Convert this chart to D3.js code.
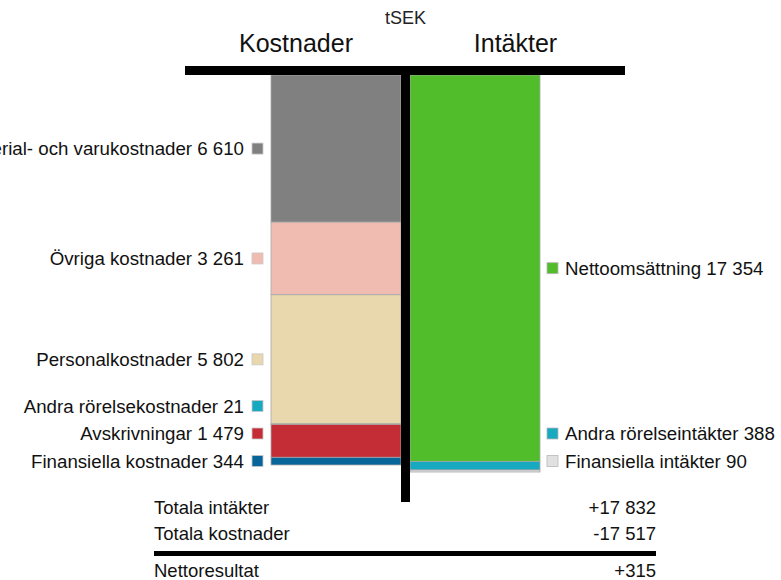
<!DOCTYPE html>
<html>
<head>
<meta charset="utf-8">
<script src="https://cdn.jsdelivr.net/npm/d3@7"></script>
<style>
  body { margin: 0; background: #fff; }
  svg { font-family: Arial, "Liberation Sans", sans-serif; }
</style>
</head>
<body>
<div id="vis"></div>
<script>
// Data (tSEK)
const COST_LABELS = ["Material- och varukostnader", "Övriga kostnader", "Personalkostnader",
    "Andra rörelsekostnader", "Avskrivningar", "Finansiella kostnader"];
const COST_VALUES = [6610, 3261, 5802, 21, 1479, 344];
const COST_COLORS = ["#808080", "#f0bcb2", "#e9d8ae", "#16a9c0", "#c52d36", "#07659a"];

const INCOME_LABELS = ["Nettoomsättning", "Andra rörelseintäkter", "Finansiella intäkter"];
const INCOME_VALUES = [17354, 388, 90];
const INCOME_COLORS = ["#52bd2a", "#16a9c0", "#e1e1e1"];

const SIDES = ["Kostnader", "Intäkter"];
const SUMMARY_LABELS = ["Totala intäkter", "Totala kostnader", "Nettoresultat"];

// Constants
const FRAME_WIDTH = 781;
const FRAME_HEIGHT = 580;
const TOP = 75;
const LABEL_GAP = 27.5;
const LABEL_MAX_Y = 461;
const LABEL_SIZE = "18.7px";

const locale = d3.formatLocale({ decimal: ",", thousands: " ", grouping: [3], currency: ["", ""], minus: "-" });
const fmt = locale.format(",d");
const fmtSigned = locale.format("+,d");

const FRAME = d3.select("#vis")
    .append("svg")
    .attr("width", FRAME_WIDTH)
    .attr("height", FRAME_HEIGHT);

const totalCost = d3.sum(COST_VALUES);
const totalIncome = d3.sum(INCOME_VALUES);

const Y_SCALE = d3.scaleLinear()
    .domain([0, Math.max(totalCost, totalIncome)])
    .range([TOP, 472]);

const X_SCALE = d3.scaleBand()
    .domain(SIDES)
    .range([271, 540])
    .paddingInner(9 / 139)
    .paddingOuter(0);

// stack helper
function stack(labels, values, colors) {
    let acc = 0;
    return values.map((v, i) => {
        const d = { label: labels[i], value: v, color: colors[i], y0: acc, y1: acc + v };
        acc += v;
        return d;
    });
}

const costs = stack(COST_LABELS, COST_VALUES, COST_COLORS);
const incomes = stack(INCOME_LABELS, INCOME_VALUES, INCOME_COLORS);

// label positions: start at segment centre, push up from the bottom to avoid overlap
function placeLabels(data) {
    let next = LABEL_MAX_Y + LABEL_GAP;
    for (let i = data.length - 1; i >= 0; i--) {
        const c = (Y_SCALE(data[i].y0) + Y_SCALE(data[i].y1)) / 2;
        data[i].ly = Math.min(c, next - LABEL_GAP);
        next = data[i].ly;
    }
}
placeLabels(costs);
placeLabels(incomes);

// bars
function drawBars(data, side) {
    FRAME.selectAll(".bar-" + side)
        .data(data)
        .enter()
        .append("rect")
        .attr("x", X_SCALE(side))
        .attr("y", (d) => Y_SCALE(d.y0))
        .attr("width", X_SCALE.bandwidth())
        .attr("height", (d) => Y_SCALE(d.y1) - Y_SCALE(d.y0))
        .attr("fill", (d) => d.color)
        .attr("stroke", "#a8a8a8")
        .attr("stroke-width", 0.8);
}
drawBars(costs, "Kostnader");
drawBars(incomes, "Intäkter");

// T lines
FRAME.append("rect")
    .attr("x", 185).attr("y", 66)
    .attr("width", 440).attr("height", 9)
    .attr("fill", "#000");
FRAME.append("rect")
    .attr("x", 401).attr("y", 66)
    .attr("width", 9).attr("height", 436)
    .attr("fill", "#000");

// headers
FRAME.append("text")
    .attr("x", 405.5).attr("y", 24)
    .attr("text-anchor", "middle")
    .attr("font-size", "18px")
    .attr("fill", "#222")
    .text("tSEK");
FRAME.append("text")
    .attr("x", 296).attr("y", 52)
    .attr("text-anchor", "middle")
    .attr("font-size", "25px")
    .attr("fill", "#111")
    .text(SIDES[0]);
FRAME.append("text")
    .attr("x", 515.5).attr("y", 52)
    .attr("text-anchor", "middle")
    .attr("font-size", "25px")
    .attr("fill", "#111")
    .text(SIDES[1]);

// legend labels
const leftLabels = FRAME.selectAll(".llab")
    .data(costs)
    .enter()
    .append("g")
    .attr("transform", (d) => "translate(0," + d.ly + ")");
leftLabels.append("rect")
    .attr("x", 252).attr("y", -5.5)
    .attr("width", 11).attr("height", 11)
    .attr("fill", (d) => d.color)
    .attr("stroke", "#c8c8c8")
    .attr("stroke-width", 0.8);
leftLabels.append("text")
    .attr("x", 244).attr("y", 0)
    .attr("dy", "0.35em")
    .attr("text-anchor", "end")
    .attr("font-size", LABEL_SIZE)
    .attr("fill", "#111")
    .text((d) => d.label + " " + fmt(d.value));

const rightLabels = FRAME.selectAll(".rlab")
    .data(incomes)
    .enter()
    .append("g")
    .attr("transform", (d) => "translate(0," + d.ly + ")");
rightLabels.append("rect")
    .attr("x", 547).attr("y", -5.5)
    .attr("width", 11).attr("height", 11)
    .attr("fill", (d) => d.color)
    .attr("stroke", "#b8b8b8")
    .attr("stroke-width", 0.8);
rightLabels.append("text")
    .attr("x", 565).attr("y", 0)
    .attr("dy", "0.35em")
    .attr("font-size", LABEL_SIZE)
    .attr("fill", "#111")
    .text((d) => d.label + " " + fmt(d.value));

// summary table
const summaryValues = [fmtSigned(totalIncome), fmt(-totalCost), fmtSigned(totalIncome - totalCost)];
const summaryY = [514, 540, 577];
SUMMARY_LABELS.forEach((lab, i) => {
    FRAME.append("text")
        .attr("x", 154).attr("y", summaryY[i])
        .attr("font-size", "18.5px")
        .attr("fill", "#111")
        .text(lab);
    FRAME.append("text")
        .attr("x", 656).attr("y", summaryY[i])
        .attr("text-anchor", "end")
        .attr("font-size", "18.5px")
        .attr("fill", "#111")
        .text(summaryValues[i]);
});
FRAME.append("rect")
    .attr("x", 154).attr("y", 551)
    .attr("width", 502).attr("height", 5)
    .attr("fill", "#000");
</script>
</body>
</html>
